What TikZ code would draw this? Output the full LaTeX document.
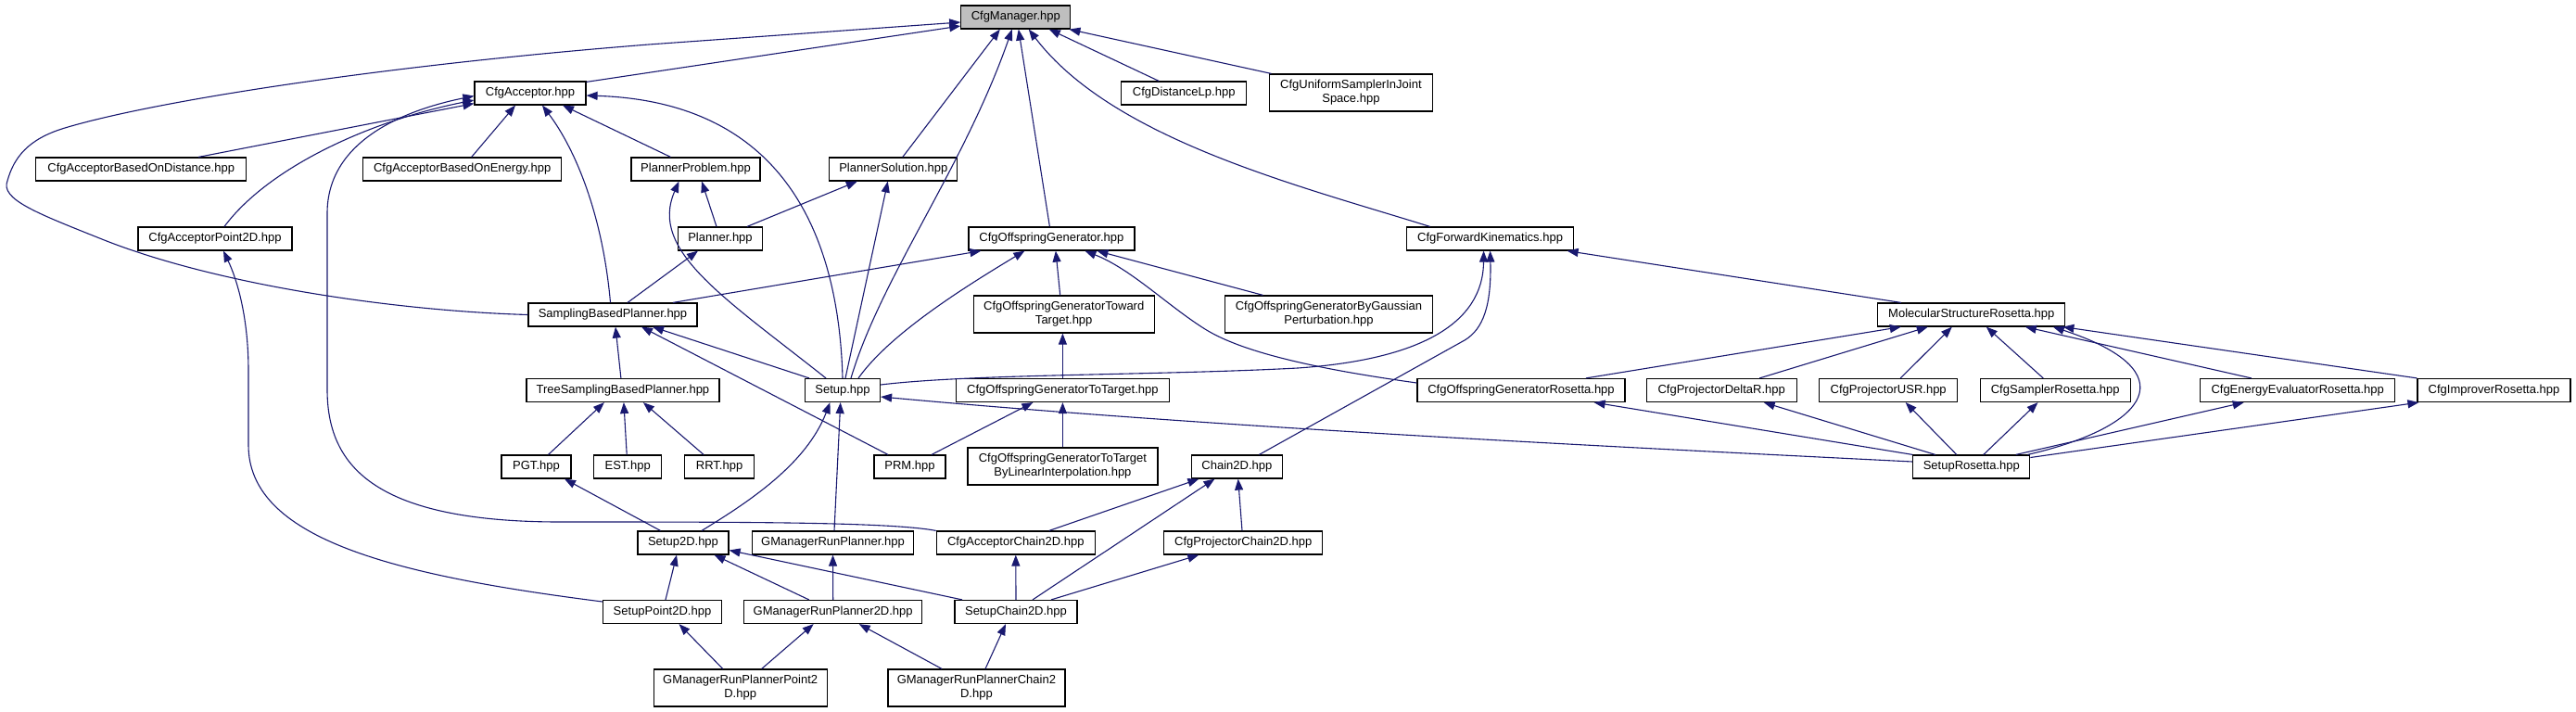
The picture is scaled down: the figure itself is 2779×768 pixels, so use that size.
\documentclass[tikz,border=0pt]{standalone}
\usepackage{fontspec}
\setmainfont{Liberation Sans}
\usetikzlibrary{arrows.meta}
\definecolor{edgec}{RGB}{25,25,112}
\definecolor{mgrfill}{RGB}{191,191,191}
\begin{document}
\begin{tikzpicture}[x=1pt,y=-1pt,
  box/.style={draw=black, line width=1.2pt, fill=white, inner sep=0pt, align=center, font=\fontsize{13}{15}\selectfont, minimum height=25pt},
  tall/.style={box, minimum height=40pt},
  e/.style={draw=edgec, line width=1.1pt, -{Triangle[length=12pt,width=9pt]}}]
\fill[white] (0,0) rectangle (2779,768);
\useasboundingbox (0,0) rectangle (2779,768);

\node[box, fill=mgrfill, minimum width=118pt] (mgr) at (1095.8,18.5) {CfgManager.hpp};
\node[box, minimum width=120pt] (acc) at (572,100.5) {CfgAcceptor.hpp};
\node[box, minimum width=135pt] (dlp) at (1277.2,100.5) {CfgDistanceLp.hpp};
\node[tall, minimum width=176pt] (usj) at (1457.4,100) {CfgUniformSamplerInJoint\\Space.hpp};
\node[box, minimum width=227pt] (abod) at (152.2,182.5) {CfgAcceptorBasedOnDistance.hpp};
\node[box, minimum width=214pt] (aboe) at (498.7,182.5) {CfgAcceptorBasedOnEnergy.hpp};
\node[box, minimum width=139pt] (pprob) at (750.5,182.5) {PlannerProblem.hpp};
\node[box, minimum width=138pt] (psol) at (963.8,182.5) {PlannerSolution.hpp};
\node[box, minimum width=166pt] (ap2d) at (232,257.5) {CfgAcceptorPoint2D.hpp};
\node[box, minimum width=91pt] (planner) at (777,257.5) {Planner.hpp};
\node[box, minimum width=179pt] (cog) at (1134.4,257.5) {CfgOffspringGenerator.hpp};
\node[box, minimum width=180pt] (cfk) at (1607.6,257.5) {CfgForwardKinematics.hpp};
\node[box, minimum width=182pt] (sbp) at (661,339.5) {SamplingBasedPlanner.hpp};
\node[tall, minimum width=195pt] (cogtt) at (1147.7,339) {CfgOffspringGeneratorToward\\Target.hpp};
\node[tall, minimum width=224pt] (cogbgp) at (1433.5,339) {CfgOffspringGeneratorByGaussian\\Perturbation.hpp};
\node[box, minimum width=202pt] (msr) at (2126.8,339.5) {MolecularStructureRosetta.hpp};
\node[box, minimum width=208pt] (tsbp) at (671.9,421) {TreeSamplingBasedPlanner.hpp};
\node[box, minimum width=81pt] (setup) at (909,421) {Setup.hpp};
\node[box, minimum width=230pt] (cogtot) at (1146.4,421) {CfgOffspringGeneratorToTarget.hpp};
\node[box, minimum width=224pt] (cogr) at (1641,421) {CfgOffspringGeneratorRosetta.hpp};
\node[box, minimum width=162pt] (pdr) at (1857.2,421) {CfgProjectorDeltaR.hpp};
\node[box, minimum width=149pt] (pusr) at (2037.2,421) {CfgProjectorUSR.hpp};
\node[box, minimum width=162pt] (sampr) at (2217.2,421) {CfgSamplerRosetta.hpp};
\node[box, minimum width=210pt] (eer) at (2478.7,421) {CfgEnergyEvaluatorRosetta.hpp};
\node[box, minimum width=165pt] (impr) at (2690.5,421) {CfgImproverRosetta.hpp};
\node[box, minimum width=75pt] (pgt) at (578.5,503.5) {PGT.hpp};
\node[box, minimum width=73pt] (est) at (677.2,503.5) {EST.hpp};
\node[box, minimum width=75pt] (rrt) at (776.1,503.5) {RRT.hpp};
\node[box, minimum width=77pt] (prm) at (981.5,503.5) {PRM.hpp};
\node[tall, minimum width=205pt] (cogli) at (1146.4,503) {CfgOffspringGeneratorToTarget\\ByLinearInterpolation.hpp};
\node[box, minimum width=98pt] (chain) at (1334.4,503.5) {Chain2D.hpp};
\node[box, minimum width=126pt] (setr) at (2126.8,503.5) {SetupRosetta.hpp};
\node[box, minimum width=98pt] (s2d) at (737,585.5) {Setup2D.hpp};
\node[box, minimum width=174pt] (gmrp) at (898.5,585.5) {GManagerRunPlanner.hpp};
\node[box, minimum width=171pt] (ac2d) at (1095.8,585.5) {CfgAcceptorChain2D.hpp};
\node[box, minimum width=171pt] (pc2d) at (1341.3,585.5) {CfgProjectorChain2D.hpp};
\node[box, minimum width=128pt] (sp2d) at (714.5,660) {SetupPoint2D.hpp};
\node[box, minimum width=192pt] (gmrp2d) at (898.7,660) {GManagerRunPlanner2D.hpp};
\node[box, minimum width=132pt] (sc2d) at (1096,660) {SetupChain2D.hpp};
\node[tall, minimum width=187pt] (gmrpp) at (798.7,742) {GManagerRunPlannerPoint2\\D.hpp};
\node[tall, minimum width=191pt] (gmrpc) at (1053.4,742) {GManagerRunPlannerChain2\\D.hpp};

% to CfgManager
\draw[e] ([yshift=-1pt]acc.north east) -- ([yshift=-9.5pt]mgr.west);
\draw[e] (sbp.west) .. controls (420,335) and (230,306) .. (110,258) .. controls (40,230) and (0,215) .. (8,195) .. controls (15,170) and (30,150) .. (70,138) .. controls (170,108) and (420,70) .. (700,48) -- ([yshift=-5.5pt]mgr.west);
\draw[e] ([xshift=10pt]psol.north) -- ([xshift=-17pt]mgr.south);
\draw[e] ([xshift=9pt]setup.north) .. controls (950,300) and (1040,180) .. ([xshift=-4pt]mgr.south);
\draw[e] ([xshift=-2pt]cog.north) -- ([xshift=3pt]mgr.south);
\draw[e] ([xshift=-65pt]cfk.north) .. controls (1400,200) and (1200,150) .. ([xshift=14pt]mgr.south);
\draw[e] ([xshift=-27pt]dlp.north) -- ([xshift=36pt]mgr.south);
\draw[e] ([xshift=-86pt]usj.north) -- ([xshift=-2pt]mgr.south east);

% to CfgAcceptor
\draw[e] ([xshift=62pt]abod.north) -- ([yshift=2pt]acc.south west);
\draw[e] ([xshift=10pt]aboe.north) -- ([xshift=-16pt]acc.south);
\draw[e] ([xshift=10pt]ap2d.north) .. controls (290,180) and (400,130) .. ([yshift=-7.5pt]acc.west);
\draw[e] (ac2d.north west) .. controls (960,563) and (800,563) .. (600,563) .. controls (400,562) and (353,500) .. (353,420) -- (353,230) .. controls (353,150) and (440,118) .. ([yshift=-3pt]acc.west);
\draw[e] ([xshift=-2.5pt]sbp.north) .. controls (650,230) and (620,160) .. ([xshift=13pt]acc.south);
\draw[e] ([xshift=-27pt]pprob.north) -- ([xshift=35pt]acc.south);
\draw[e] (setup.north) .. controls (905,260) and (850,110) .. ([yshift=-2.5pt]acc.east);

% PlannerProblem, PlannerSolution, Planner
\draw[e] ([xshift=-4pt]planner.north) -- ([xshift=6.5pt]pprob.south);
\draw[e] ([xshift=-18pt]setup.north) .. controls (780,320) and (700,270) .. ([xshift=-18pt]pprob.south);
\draw[e] ([xshift=29pt]planner.north) -- ([xshift=-39pt]psol.south);
\draw[e] ([xshift=3pt]setup.north) -- ([xshift=-6pt]psol.south);
\draw[e] ([xshift=16pt]sbp.north) -- ([xshift=-24pt]planner.south);

% CfgOffspringGenerator
\draw[e] ([xshift=65pt]sbp.north) -- ([xshift=-76pt]cog.south);
\draw[e] ([xshift=17pt]setup.north) .. controls (960,360) and (1040,310) .. ([xshift=-29pt]cog.south);
\draw[e] ([xshift=-4pt]cogtt.north) -- ([xshift=4.5pt]cog.south);
\draw[e] ([xshift=-71pt]cogbgp.north) -- ([xshift=49pt]cog.south);
\draw[e] ([yshift=8pt]cogr.west) .. controls (1420,398) and (1340,380) .. (1300,355) .. controls (1260,330) and (1220,290) .. ([xshift=36pt]cog.south);

% CfgForwardKinematics
\draw[e] ([xshift=-76pt]msr.north) -- ([xshift=83pt]cfk.south);
\draw[e] ([yshift=6pt]setup.east) .. controls (1050,403) and (1250,405) .. (1400,397) .. controls (1530,388) and (1600,350) .. ([xshift=-7pt]cfk.south);
\draw[e] ([xshift=24pt]chain.north) -- (1580,367) .. controls (1600,355) and (1609,330) .. (cfk.south);

% MolecularStructureRosetta
\draw[e] ([xshift=70pt]cogr.north) -- ([xshift=-76pt]msr.south);
\draw[e] ([xshift=41pt]pdr.north) -- ([xshift=-47pt]msr.south);
\draw[e] ([xshift=13pt]pusr.north) -- ([xshift=-21pt]msr.south);
\draw[e] ([xshift=-13pt]sampr.north) -- ([xshift=16pt]msr.south);
\draw[e] ([xshift=-3pt]setr.north east) .. controls (2320,460) and (2360,400) .. ([xshift=88pt]msr.south);
\draw[e] ([xshift=-50pt]eer.north) -- ([xshift=58pt]msr.south);
\draw[e] (impr.north west) -- ([xshift=-3pt]msr.south east);

% SamplingBasedPlanner, TreeSamplingBasedPlanner, PGT
\draw[e] ([xshift=-2pt]tsbp.north) -- ([xshift=3pt]sbp.south);
\draw[e] ([xshift=-36pt]setup.north) -- ([xshift=43pt]sbp.south);
\draw[e] ([xshift=-23.5pt]prm.north) -- ([xshift=31pt]sbp.south);
\draw[e] ([xshift=13pt]pgt.north) -- ([xshift=-20pt]tsbp.south);
\draw[e] ([xshift=-1pt]est.north) -- ([xshift=1pt]tsbp.south);
\draw[e] ([xshift=-17pt]rrt.north) -- ([xshift=22pt]tsbp.south);
\draw[e] ([xshift=-24.5pt]s2d.north) -- ([xshift=30.5pt]pgt.south);

% Setup
\draw[e] ([xshift=20pt]s2d.north) .. controls (810,540) and (870,500) .. ([xshift=-13.5pt]setup.south);
\draw[e] ([xshift=1.5pt]gmrp.north) -- ([xshift=-2.3pt]setup.south);
\draw[e] ([yshift=5.5pt]setr.west) .. controls (1700,480) and (1300,460) .. ([yshift=-7pt]setup.east);

% Offspring generator to target
\draw[e] (cogtot.north) -- ([xshift=-1.3pt]cogtt.south);
\draw[e] ([xshift=23.5pt]prm.north) -- ([xshift=-32pt]cogtot.south);
\draw[e] (cogli.north) -- (cogtot.south);

% Chain2D
\draw[e] ([xshift=36pt]ac2d.north) -- ([xshift=-41pt]chain.south);
\draw[e] ([xshift=18pt]sc2d.north) -- ([xshift=-24pt]chain.south);
\draw[e] ([xshift=-1.3pt]pc2d.north) -- ([xshift=1.3pt]chain.south);
\draw[e] (sc2d.north) -- (ac2d.south);
\draw[e] ([xshift=38pt]sc2d.north) -- ([xshift=-48pt]pc2d.south);

% Setup2D and below
\draw[e] ([xshift=3.5pt]sp2d.north) -- ([xshift=-7pt]s2d.south);
\draw[e] ([xshift=-26pt]gmrp2d.north) -- ([xshift=33.5pt]s2d.south);
\draw[e] ([xshift=-58pt]sc2d.north) -- ([yshift=-8pt]s2d.east);
\draw[e] (gmrp2d.north) -- (gmrp.south);
\draw[e] ([xshift=-19pt]gmrpp.north) -- ([xshift=18pt]sp2d.south);
\draw[e] ([xshift=23pt]gmrpp.north) -- ([xshift=-21pt]gmrp2d.south);
\draw[e] ([xshift=-37.4pt]gmrpc.north) -- ([xshift=28pt]gmrp2d.south);
\draw[e] ([xshift=9.6pt]gmrpc.north) -- ([xshift=-11pt]sc2d.south);
\draw[e] ([yshift=11pt]sp2d.west) .. controls (420,620) and (268,580) .. (268,480) -- (268,400) .. controls (268,340) and (255,300) .. ([xshift=9pt]ap2d.south);

% SetupRosetta
\draw[e] (setr.north west) -- ([xshift=78.6pt]cogr.south);
\draw[e] ([xshift=-39pt]setr.north) -- ([xshift=45.5pt]pdr.south);
\draw[e] ([xshift=-16pt]setr.north) -- ([xshift=18.5pt]pusr.south);
\draw[e] ([xshift=13pt]setr.north) -- ([xshift=-18.7pt]sampr.south);
\draw[e] ([xshift=48pt]setr.north) -- ([xshift=-58pt]eer.south);
\draw[e] ([yshift=10pt]setr.east) -- ([xshift=2pt]impr.south west);
\end{tikzpicture}
\end{document}
